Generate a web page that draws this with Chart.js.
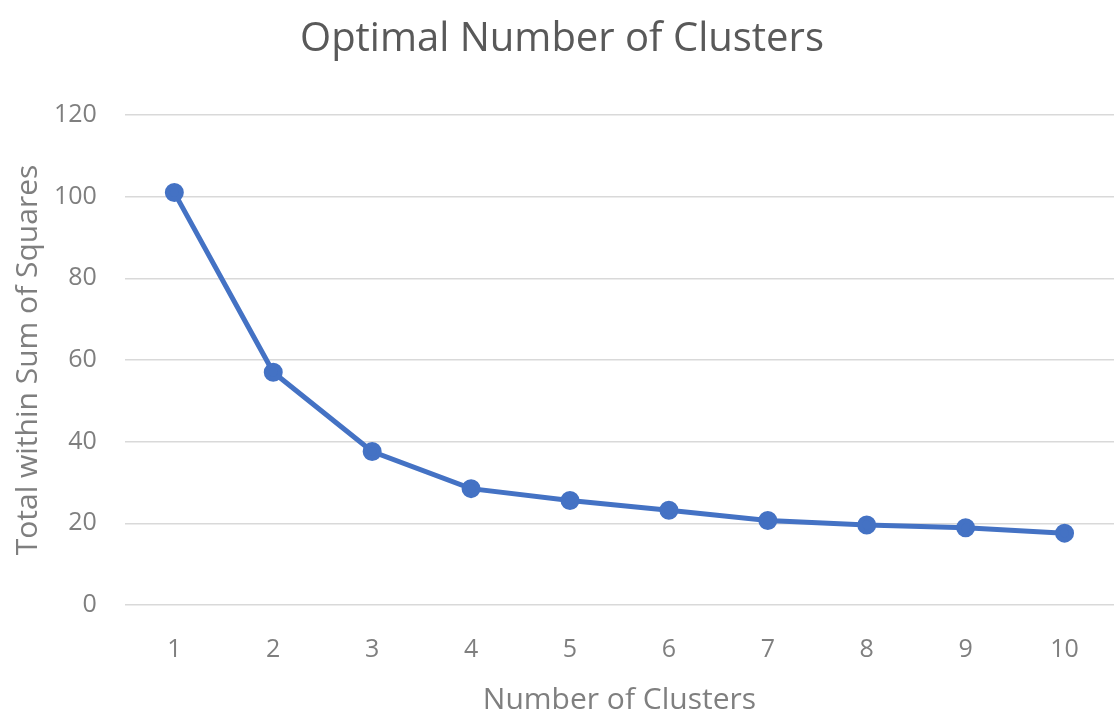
<!DOCTYPE html>
<html>
<head>
<meta charset="utf-8">
<script src="https://cdn.jsdelivr.net/npm/chart.js@4"></script>
<style>
  html, body { margin: 0; padding: 0; background: #fff; }
  #wrap { width: 1114px; height: 719px; }
</style>
</head>
<body>
<div id="wrap"><canvas id="elbowChart"></canvas></div>
<script>
const clusters = ['1', '2', '3', '4', '5', '6', '7', '8', '9', '10'];
const withinSS = [101, 57, 37.6, 28.5, 25.6, 23.2, 20.7, 19.6, 18.9, 17.6];
const yTicks = [0, 20, 40, 60, 80, 100, 120];

const grey = '#7f7f7f';
const ctx = document.getElementById('elbowChart').getContext('2d');
// note: chart.js reserves tick padding on both sides of the labels, so the
// gap to the plot is mostly made with tickLength (hidden tick marks)
const elbowChart = new Chart(ctx, {
    type: 'line',
    data: {
        labels: clusters,
        datasets: [
            {
                label: 'Total within Sum of Squares',
                data: withinSS,
                borderColor: '#4472c4',
                backgroundColor: '#4472c4',
                borderWidth: 5,
                pointRadius: 7,
                tension: 0,
                fill: false,
            },
        ],
    },
    options: {
        responsive: true,
        maintainAspectRatio: false,
        animation: false,
        layout: { autoPadding: false, padding: { top: 16, right: 0, bottom: 1, left: 10 } },
        plugins: {
            legend: { display: false },
            title: {
                display: true,
                text: 'Optimal Number of Clusters',
                color: '#595959',
                font: { family: 'Open Sans', size: 40, weight: 'normal' },
                padding: { top: 0, bottom: 51 },
            },
        },
        scales: {
            x: {
                offset: true,
                grid: { display: false, tickLength: 30 },
                border: { display: false },
                ticks: { color: grey, font: { family: 'Open Sans', size: 25 }, padding: 0 },
                title: {
                    display: true,
                    text: 'Number of Clusters',
                    color: grey,
                    font: { family: 'Open Sans', size: 30 },
                    padding: { top: 17, bottom: 0 },
                },
            },
            y: {
                min: 0,
                max: 120,
                afterBuildTicks: (axis) => { axis.ticks = yTicks.map(v => ({ value: v })); },
                grid: { color: '#d9d9d9', lineWidth: 1.5, tickLength: 24, tickColor: 'rgba(0,0,0,0)' },
                border: { display: false },
                ticks: { color: grey, font: { family: 'Open Sans', size: 25 }, padding: 4 },
                title: {
                    display: true,
                    text: 'Total within Sum of Squares',
                    color: grey,
                    font: { family: 'Open Sans', size: 30 },
                    padding: { top: 0, bottom: 4 },
                },
            },
        },
    },
});
</script>
</body>
</html>
